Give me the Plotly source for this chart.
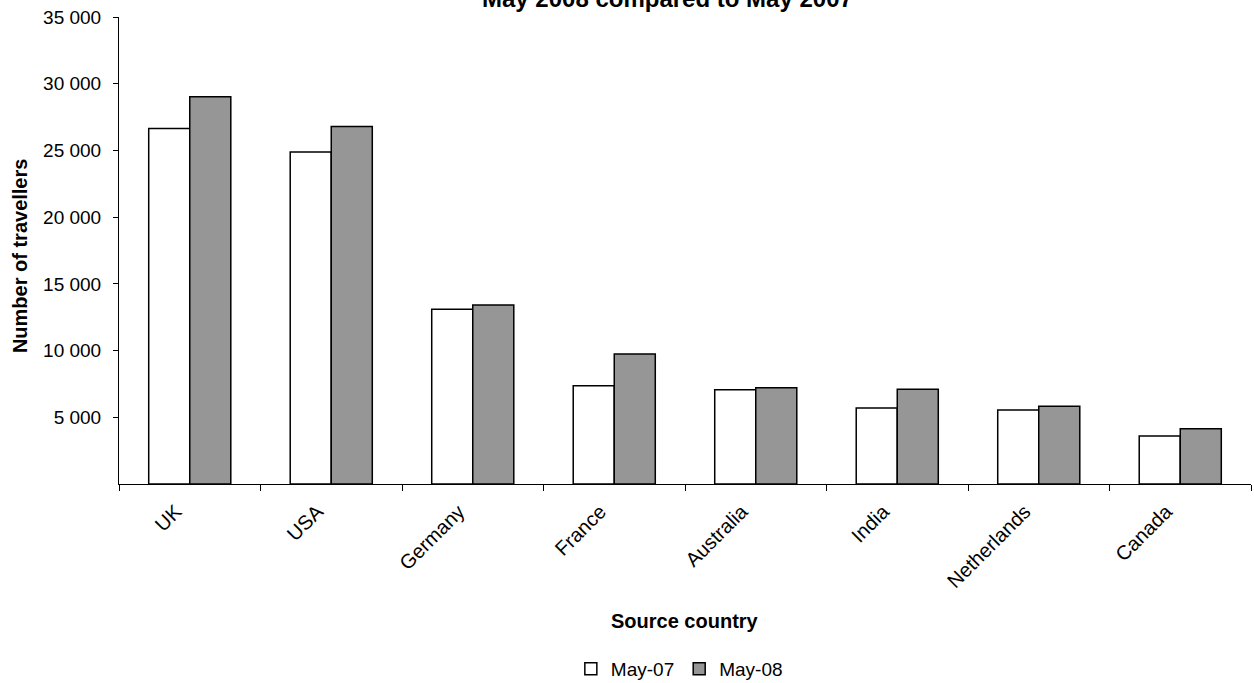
import plotly.graph_objects as go

countries = ["UK", "USA", "Germany", "France", "Australia", "India", "Netherlands", "Canada"]
may_07 = [26650, 24880, 13100, 7370, 7070, 5700, 5550, 3600]
may_08 = [29030, 26790, 13420, 9750, 7220, 7100, 5820, 4150]

y_tick_values = [5000, 10000, 15000, 20000, 25000, 30000, 35000]
y_tick_labels = ["5 000", "10 000", "15 000", "20 000", "25 000", "30 000", "35 000"]

FONT = "Liberation Sans, Arial, sans-serif"

fig = go.Figure()
fig.add_trace(go.Bar(
    x=countries, y=may_07, name="May-07",
    marker=dict(color="#ffffff", line=dict(color="#000000", width=1.5)),
))
fig.add_trace(go.Bar(
    x=countries, y=may_08, name="May-08",
    marker=dict(color="#969696", line=dict(color="#000000", width=1.5)),
))

fig.update_layout(
    width=1254, height=683,
    margin=dict(l=119, r=3, t=17, b=199, autoexpand=False),
    paper_bgcolor="#ffffff", plot_bgcolor="#ffffff",
    barmode="group", bargap=0.42, bargroupgap=0,
    font=dict(family=FONT, size=19, color="#000000"),
    showlegend=True,
    legend=dict(
        orientation="h", x=0.495, xanchor="center", y=-0.355, yanchor="top",
        font=dict(family=FONT, size=19), itemwidth=30,
        traceorder="normal", itemclick=False, tracegroupgap=0,
    ),
    xaxis=dict(
        type="category", tickangle=-45, tickson="boundaries",
        ticks="outside", ticklen=6, tickcolor="#000000",
        ticklabelstandoff=7, ticklabelshift=-14, automargin=False,
        showline=True, linecolor="#000000", linewidth=1,
        showgrid=False, tickfont=dict(family=FONT, size=20),
    ),
    yaxis=dict(
        range=[0, 35000], tickvals=y_tick_values, ticktext=y_tick_labels,
        ticks="outside", ticklen=5, tickcolor="#000000", ticklabelstandoff=8,
        automargin=False,
        showline=True, linecolor="#000000", linewidth=1,
        showgrid=False, zeroline=False, tickfont=dict(family=FONT, size=19),
    ),
)

fig.add_annotation(
    text="<b>Number of travellers</b>", textangle=-90,
    xref="paper", yref="paper", x=-0.0875, y=0.49, xanchor="center", yanchor="middle",
    showarrow=False, font=dict(family=FONT, size=20),
)
fig.add_annotation(
    text="<b>Source country</b>",
    xref="paper", yref="paper", x=0.5, y=-0.2934, xanchor="center", yanchor="middle",
    showarrow=False, font=dict(family=FONT, size=20),
)
fig.add_annotation(
    text="<b>May 2008 compared to May 2007</b>",
    xref="paper", yref="paper", x=0.4845, y=1.0395, xanchor="center", yanchor="middle",
    showarrow=False, font=dict(family=FONT, size=24),
)

fig.write_html("out.html")
